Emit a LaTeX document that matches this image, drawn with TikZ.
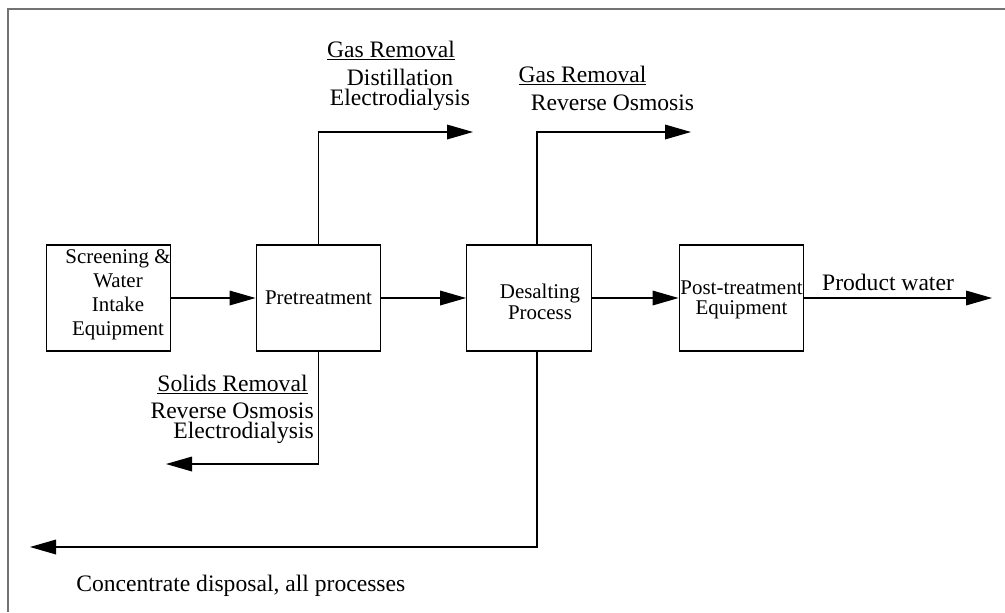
\documentclass[tikz,border=0pt]{standalone}
\usepackage{fontspec}
\setmainfont{Liberation Serif}
\usetikzlibrary{arrows.meta}

\begin{document}
\begin{tikzpicture}[x=0.75pt, y=-0.75pt,
    >={Triangle[length=19.5pt,width=11pt]},
    unit/.style={draw, line width=0.9pt, minimum width=93.5pt, minimum height=79.5pt, inner sep=0pt},
    flow/.style={->, line width=0.9pt},
    boxtext/.style={font=\fontsize{15.7}{18}\selectfont, align=center, inner sep=0pt},
    tag/.style={font=\fontsize{17.7}{15}\selectfont, align=center, inner sep=0pt}]
    % Cadre
    \useasboundingbox (0,0) rectangle (1005,612);
    \draw [black!55, line width=1.5pt] (8,612) -- (8,9) -- (1005,9) ;
    % Blocs
    \node [unit] (intake) at (108.5,298) {};
    \node [unit] (pre)    at (318.5,298) {};
    \node [unit] (desal)  at (529,298)   {};
    \node [unit] (post)   at (741.5,298) {};
    % Textes des blocs
    \node [boxtext] (intaketxt) at (118,295) {Screening \&\\Water\\Intake\\Equipment};
    \node [boxtext] (pretxt) at (318.5,298) {Pretreatment};
    \node [boxtext, font=\fontsize{15.7}{15.5}\selectfont] (desaltxt) at (540,302) {Desalting\\Process};
    \node [boxtext, font=\fontsize{15.7}{15.5}\selectfont] (posttxt) at (741.5,300) {Post-treatment\\Equipment};
    % Extremites des fleches
    \coordinate (gasAend)   at (473,132);
    \coordinate (gasBend)   at (691,132);
    \coordinate (solidsend) at (166,464);
    \coordinate (wasteend)  at (30,547);
    \coordinate (prodend)   at (992,298);
    % Fleches
    \draw [flow] (intake) -- (pre) ;
    \draw [flow] (pre) -- (desal) ;
    \draw [flow] (desal) -- (post) ;
    \draw [flow] (post) -- (prodend) ;
    \draw [flow] (pre.north) |- (gasAend) ;
    \draw [flow] ([xshift=6pt]desal.north) |- (gasBend) ;
    \draw [flow] (pre.south) |- (solidsend) ;
    \draw [flow] ([xshift=6pt]desal.south) |- (wasteend) ;
    % Textes
    \node [tag, anchor=base] (gasA) at (391,57) {\underline{Gas Removal}};
    \node [tag] (gasAproc) at (400,90) {Distillation\\Electrodialysis};
    \node [tag, anchor=base] (gasB) at (582.5,82) {\underline{Gas Removal}};
    \node [tag] (gasBproc) at (612.5,103) {Reverse Osmosis};
    \node [tag, anchor=base] (solids) at (232.5,391) {\underline{Solids Removal}};
    \node [tag, align=right, anchor=east] (solidsproc) at (314,423) {Reverse Osmosis\\Electrodialysis};
    \node [tag] (prodtxt) at (888,282) {Product water};
    \node [tag, anchor=west] (wastetxt) at (76,586) {Concentrate disposal, all processes};
\end{tikzpicture}
\end{document}
